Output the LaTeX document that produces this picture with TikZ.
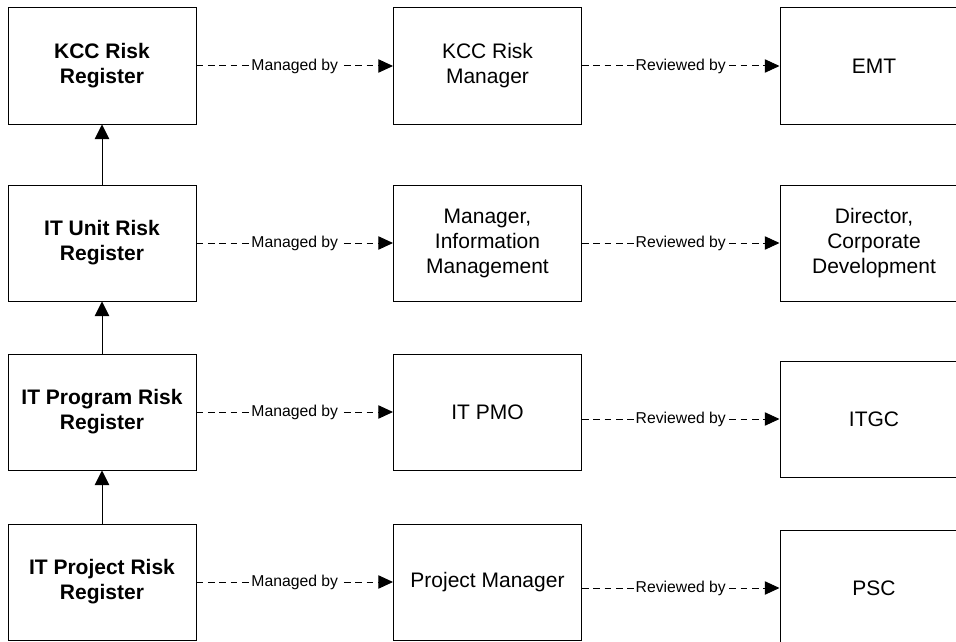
\documentclass[tikz,border=0pt]{standalone}
\usepackage{fontspec}
\setmainfont{Liberation Sans} % Arial widths
\usetikzlibrary{arrows.meta}

\tikzset{
    regbox/.style={draw, line width=0.75pt, minimum width=141pt, minimum height=87pt, inner sep=0pt, align=center, font=\fontsize{15.75}{18.75}\selectfont\bfseries},
    ownerbox/.style={draw, line width=0.75pt, minimum width=141pt, minimum height=87pt, inner sep=0pt, align=center, font=\fontsize{15.75}{18.75}\selectfont},
    tag/.style={fill=white, inner sep=0.8pt, font=\fontsize{11.8}{14}\selectfont},
    dashlink/.style={line width=0.75pt, dash pattern=on 5pt off 3.5pt, -{Triangle[length=11pt, width=10pt]}},
    uplink/.style={line width=0.75pt, -{Triangle[length=11pt, width=11pt]}}
}

\begin{document}
\begin{tikzpicture}[x=0.75pt, y=-0.75pt] % one unit = one pixel of the reference

    % Page size of the reference
    \useasboundingbox (0,0) rectangle (956,642);
    \clip (0,0) rectangle (956,642);

    % Registers (left column)
    \node[regbox] (kccreg) at (102,66) {KCC Risk\\Register};
    \node[regbox] (unitreg) at (102,243) {IT Unit Risk\\Register};
    \node[regbox] (progreg) at (102,412) {IT Program Risk\\Register};
    \node[regbox] (projreg) at (102,582) {IT Project Risk\\Register};

    % Managers (middle column)
    \node[ownerbox] (kccmgr) at (487.5,66) {KCC Risk\\Manager};
    \node[ownerbox] (infomgr) at (487.5,243) {Manager,\\Information\\Management};
    \node[ownerbox] (pmo) at (487.5,412) {IT PMO};
    \node[ownerbox] (projmgr) at (487.5,582) {Project Manager};

    % Reviewers (right column, cut by the page edge)
    \node[ownerbox] (emt) at (874,66) {EMT};
    \node[ownerbox] (dircd) at (874,243) {Director,\\Corporate\\Development};
    \node[ownerbox] (itgc) at (874,419) {ITGC};
    \node[ownerbox] (psc) at (874,588) {PSC};

    % Roll-up of the registers
    \draw[uplink] (projreg) -- (progreg);
    \draw[uplink] (progreg) -- (unitreg);
    \draw[uplink] (unitreg) -- (kccreg);

    % Managed by
    \draw[dashlink] (kccreg) -- node[tag] {Managed by} (kccmgr);
    \draw[dashlink] (unitreg) -- node[tag] {Managed by} (infomgr);
    \draw[dashlink] (progreg) -- node[tag] {Managed by} (pmo);
    \draw[dashlink] (projreg) -- node[tag] {Managed by} (projmgr);

    % Reviewed by
    \draw[dashlink] (kccmgr) -- node[tag] {Reviewed by} (emt);
    \draw[dashlink] (infomgr) -- node[tag] {Reviewed by} (dircd);
    \draw[dashlink] (pmo.east |- itgc) -- node[tag] {Reviewed by} (itgc);
    \draw[dashlink] (projmgr.east |- psc) -- node[tag] {Reviewed by} (psc);

\end{tikzpicture}
\end{document}
